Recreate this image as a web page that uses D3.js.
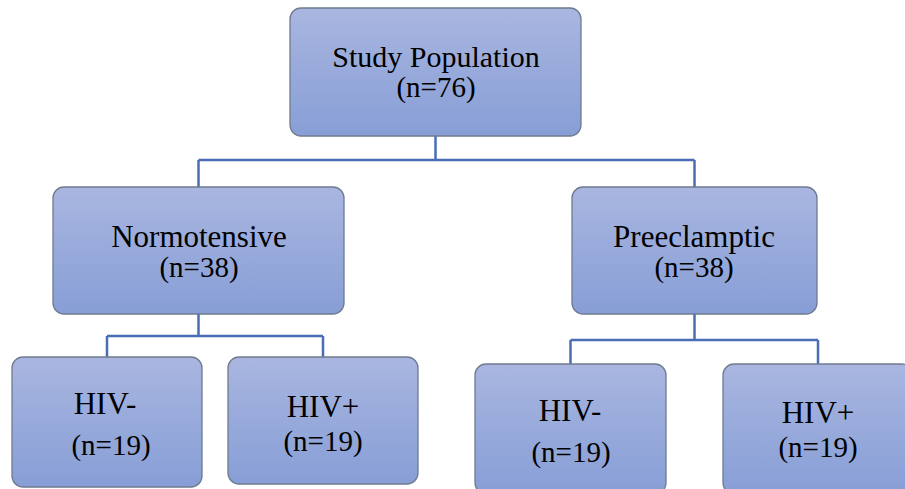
<!DOCTYPE html>
<html><head><meta charset="utf-8">
<script src="https://cdn.jsdelivr.net/npm/d3@7"></script>
<style>html,body{margin:0;padding:0;background:#fff;}</style>
</head><body>
<svg id="c" width="905" height="489"></svg>
<script>
// Data
const nodeIds = ["root", "norm", "pre", "normNeg", "normPos", "preNeg", "prePos"];
const nodeParents = [null, "root", "root", "norm", "norm", "pre", "pre"];
const nodeTitles = ["Study Population", "Normotensive", "Preeclamptic", "HIV-", "HIV+", "HIV-", "HIV+"];
const nodeCounts = [76, 38, 38, 19, 19, 19, 19];

// Layout (pixel boxes for each node)
const boxes = {
  root:    {x: 290, y: 8,   w: 291, h: 128, fs: 30, t1: [436, 67], t2: [436, 97]},
  norm:    {x: 53,  y: 187, w: 291, h: 127, fs: 31, t1: [199, 247], t2: [199, 277]},
  pre:     {x: 572, y: 187, w: 245, h: 127, fs: 31, t1: [694, 247], t2: [694, 277]},
  normNeg: {x: 12,  y: 357, w: 190, h: 130, fs: 31, t1: [105, 414], t2: [111, 455]},
  normPos: {x: 228, y: 357, w: 190, h: 127, fs: 31, t1: [323, 417], t2: [323, 451]},
  preNeg:  {x: 475, y: 364, w: 191, h: 130, fs: 31, t1: [570, 421], t2: [571, 462]},
  prePos:  {x: 723, y: 364, w: 190, h: 130, fs: 31, t1: [818, 423], t2: [818, 457]}
};
const busY = {root: 160, norm: 336, pre: 340};

const svg = d3.select("#c");
const defs = svg.append("defs");
const g = defs.append("linearGradient").attr("id", "bg").attr("x1", 0).attr("y1", 0).attr("x2", 0).attr("y2", 1);
g.append("stop").attr("offset", "0%").attr("stop-color", "#a9b6e0");
g.append("stop").attr("offset", "100%").attr("stop-color", "#879ed6");

const table = nodeIds.map((id, i) => ({id, parent: nodeParents[i], title: nodeTitles[i], n: nodeCounts[i]}));
const root = d3.stratify().id(d => d.id).parentId(d => d.parent)(table);

// connectors
const linkG = svg.append("g");
root.descendants().filter(d => d.children).forEach(p => {
  const b = boxes[p.id];
  const cx = b.x + b.w / 2;
  const by = busY[p.id];
  const kids = p.children.map(c => boxes[c.id].x + boxes[c.id].w / 2);
  const path = d3.path();
  path.moveTo(cx, b.y + b.h); path.lineTo(cx, by);
  path.moveTo(d3.min(kids), by); path.lineTo(d3.max(kids), by);
  p.children.forEach(c => {
    const kb = boxes[c.id];
    path.moveTo(kb.x + kb.w / 2, by); path.lineTo(kb.x + kb.w / 2, kb.y);
  });
  linkG.append("path").attr("d", path.toString()).attr("fill", "none")
    .attr("stroke", "#4a6db3").attr("stroke-width", 2.5);
});

// nodes
const nodeG = svg.append("g").selectAll("g").data(root.descendants()).join("g");
nodeG.append("rect")
  .attr("x", d => boxes[d.id].x).attr("y", d => boxes[d.id].y)
  .attr("width", d => boxes[d.id].w).attr("height", d => boxes[d.id].h)
  .attr("rx", 11).attr("ry", 11)
  .attr("fill", "url(#bg)").attr("stroke", "#6f7b8f").attr("stroke-width", 1.3);
nodeG.append("text")
  .attr("x", d => boxes[d.id].t1[0]).attr("y", d => boxes[d.id].t1[1])
  .attr("text-anchor", "middle").attr("font-family", "'Liberation Serif','Times New Roman',serif")
  .attr("font-size", d => boxes[d.id].fs).attr("fill", "#000").text(d => d.data.title);
nodeG.append("text")
  .attr("x", d => boxes[d.id].t2[0]).attr("y", d => boxes[d.id].t2[1])
  .attr("text-anchor", "middle").attr("font-family", "'Liberation Serif','Times New Roman',serif")
  .attr("font-size", 29).attr("fill", "#000").text(d => "(n=" + d.data.n + ")");
</script>
</body></html>
